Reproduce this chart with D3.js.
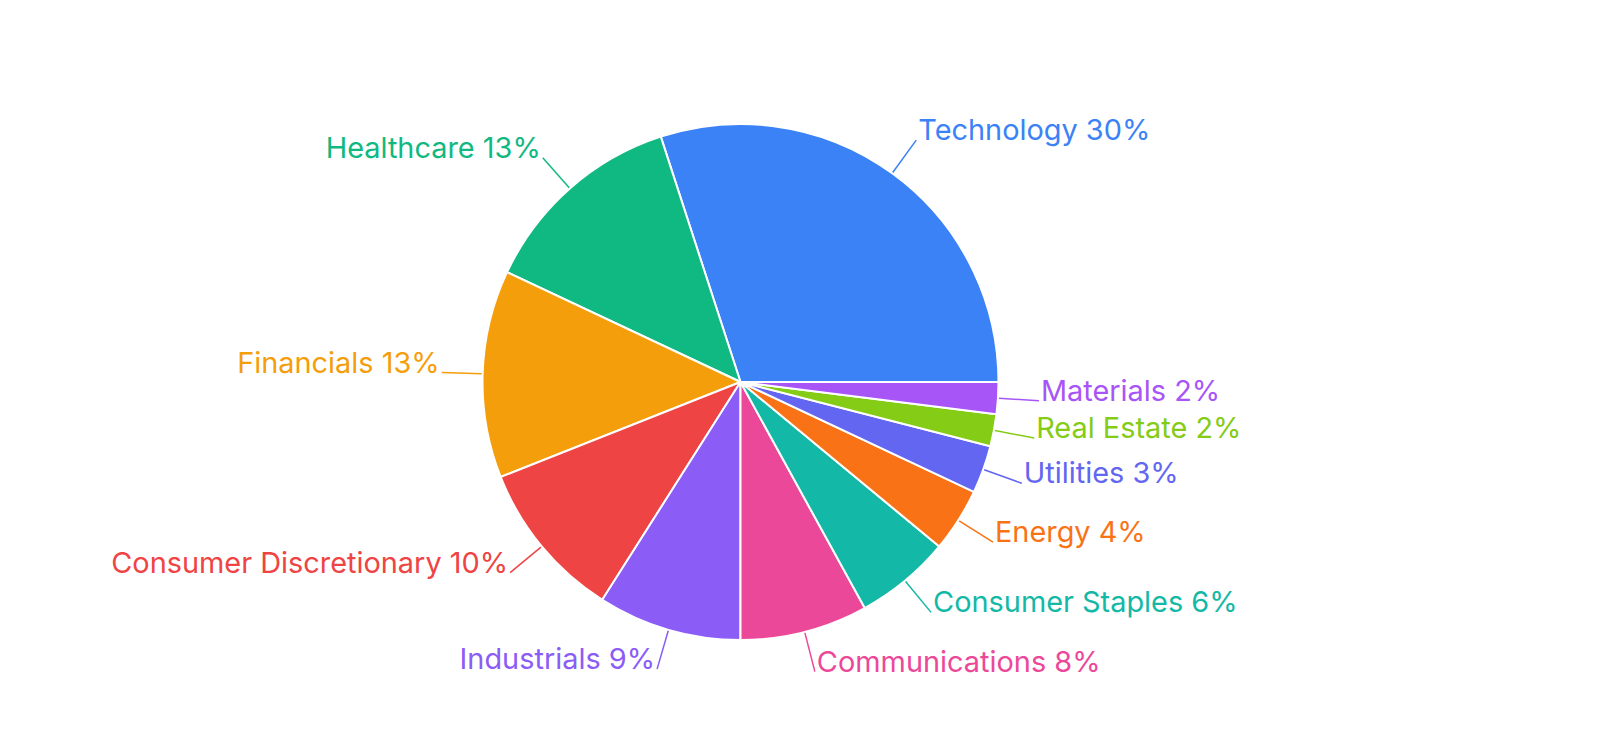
<!DOCTYPE html>
<html>
<head>
<meta charset="utf-8">
<script src="https://cdn.jsdelivr.net/npm/d3@7/dist/d3.min.js"></script>
<style>
  html, body { margin: 0; padding: 0; background: #ffffff; }
  svg { display: block; }
</style>
</head>
<body>
<svg id="chart" width="1600" height="734"></svg>
<script>
const categories = ["Technology", "Healthcare", "Financials", "Consumer Discretionary", "Industrials",
  "Communications", "Consumer Staples", "Energy", "Utilities", "Real Estate", "Materials"];
const values = [30, 13, 13, 10, 9, 8, 6, 4, 3, 2, 2];
const colors = ["#3b82f6", "#10b981", "#f59e0b", "#ef4444", "#8b5cf6",
  "#ec4899", "#14b8a6", "#f97316", "#6366f1", "#84cc16", "#a855f7"];

const width = 1600, height = 734;
const cx = 740.5, cy = 382, r = 258;
const lineStart = r + 1, lineEnd = r + 41;

const svg = d3.select("#chart");
const g = svg.append("g").attr("transform", `translate(${cx},${cy})`);

const data = categories.map((c, i) => ({ name: c, value: values[i], color: colors[i] }));
const total = d3.sum(values);

const pie = d3.pie().value(d => d.value).sort(null)
  .startAngle(Math.PI / 2).endAngle(Math.PI / 2 - 2 * Math.PI);
const arcs = pie(data);
const arc = d3.arc().innerRadius(0).outerRadius(r);

g.selectAll("path.slice").data(arcs).join("path")
  .attr("class", "slice")
  .attr("d", arc)
  .attr("fill", d => d.data.color)
  .attr("stroke", "#ffffff")
  .attr("stroke-width", 2)
  .attr("stroke-linejoin", "round");

const pt = (a, rad) => [rad * Math.sin(a), -rad * Math.cos(a)];

arcs.forEach(d => {
  const a = (d.startAngle + d.endAngle) / 2;
  const p0 = pt(a, lineStart), p1 = pt(a, lineEnd);
  const right = Math.sin(a) >= 0;
  g.append("line")
    .attr("x1", p0[0]).attr("y1", p0[1])
    .attr("x2", p1[0]).attr("y2", p1[1])
    .attr("stroke", d.data.color)
    .attr("stroke-width", 1.5);
  const pct = Math.round(d.data.value / total * 100);
  g.append("text")
    .attr("x", p1[0] + (right ? 2 : -2))
    .attr("y", p1[1])
    .attr("text-anchor", right ? "start" : "end")
    .attr("fill", d.data.color)
    .style("font-family", "Inter, 'Noto Sans', sans-serif")
    .style("font-size", "28.9px")
    .text(`${d.data.name} ${pct}%`);
});
</script>
</body>
</html>
